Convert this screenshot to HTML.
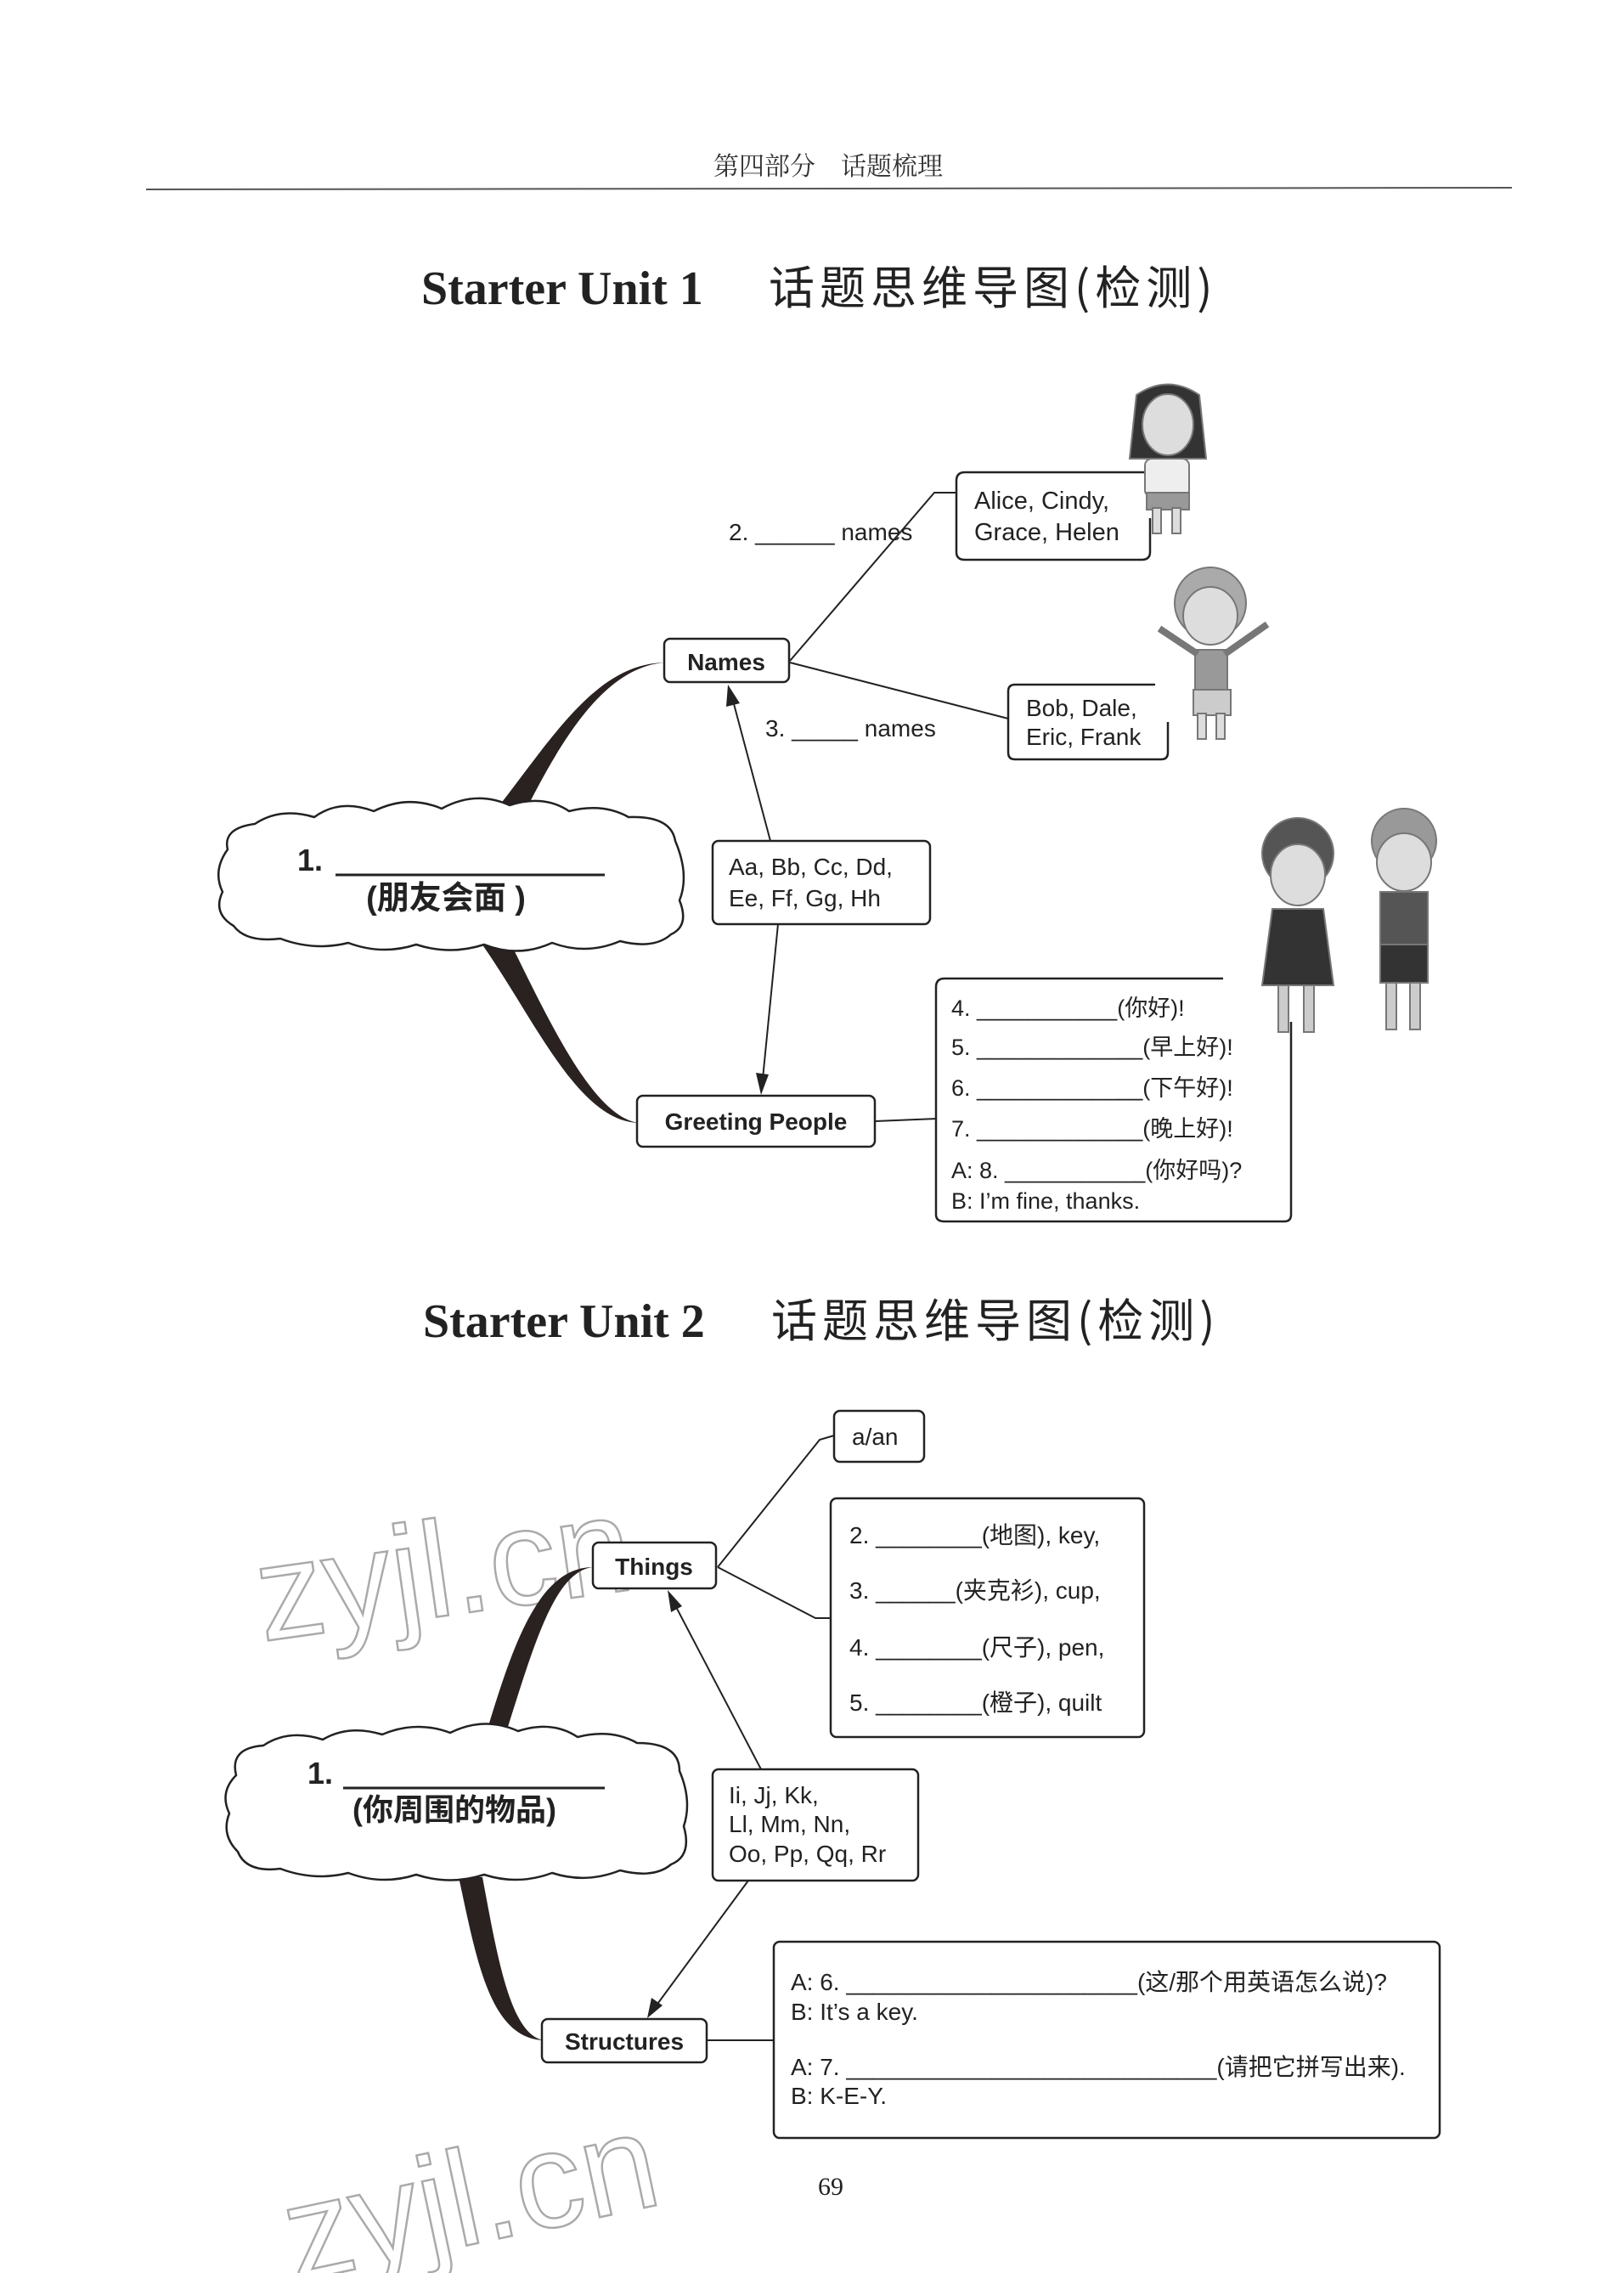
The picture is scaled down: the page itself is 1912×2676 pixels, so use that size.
<!DOCTYPE html>
<html><head><meta charset="utf-8">
<style>
html,body{margin:0;padding:0;background:#fff;}
svg{display:block;}
text{font-family:"Liberation Sans","Noto Sans CJK SC",sans-serif;fill:#222;}
text.wm{fill:none;stroke:#aaa;stroke-width:2.5;}
</style></head>
<body>
<svg width="1912" height="2676" viewBox="0 0 1912 2676" xmlns="http://www.w3.org/2000/svg">
<!-- header -->
<text x="975" y="206" font-size="30" text-anchor="middle" style="font-family:'Noto Serif CJK SC',serif;fill:#333">第四部分　话题梳理</text>
<line x1="172" y1="223" x2="1780" y2="221" stroke="#555" stroke-width="2"/>

<!-- Title 1 -->
<text x="496" y="358" font-size="56" font-weight="bold" style="font-family:'Liberation Serif',serif">Starter Unit 1</text>
<text x="905" y="358" font-size="54" letter-spacing="6" style="font-family:'Noto Sans CJK SC',sans-serif">话题思维导图(检测)</text>

<!-- watermarks -->
<text class="wm" x="300" y="1905" transform="rotate(-8 500 1850)" font-size="160">zyjl.cn</text>
<text class="wm" x="330" y="2640" transform="rotate(-12 560 2580)" font-size="160">zyjl.cn</text>

<!-- Unit 1 branches -->
<path d="M575 965 C650 870 700 782 782 780 C715 786 665 860 612 968 Z" fill="#2a2220"/>
<path d="M565 1108 C630 1200 680 1320 752 1322 C700 1315 650 1210 600 1108 Z" fill="#2a2220"/>

<!-- cloud 1 -->
<path d="M268 1000 Q262 975 300 970 Q330 950 370 962 Q400 940 440 955 Q480 935 520 952 Q560 930 600 948 Q640 935 670 955 Q710 945 740 962 Q790 960 795 990 Q812 1030 800 1060 Q812 1090 790 1100 Q770 1118 730 1108 Q690 1125 650 1110 Q610 1128 570 1112 Q530 1125 490 1112 Q450 1125 410 1110 Q370 1120 330 1105 Q290 1110 275 1090 Q250 1075 262 1050 Q250 1025 268 1000 Z" fill="#fff" stroke="#222" stroke-width="2.5"/>
<text x="350" y="1025" font-size="36" font-weight="bold">1.</text>
<line x1="395" y1="1030" x2="712" y2="1030" stroke="#222" stroke-width="3"/>
<text x="525" y="1070" font-size="38" font-weight="bold" text-anchor="middle">(朋友会面 )</text>

<!-- Names -->
<rect x="782" y="752" width="147" height="51" rx="7" fill="#fff" stroke="#222" stroke-width="2.5"/>
<text x="855" y="789" font-size="28" font-weight="bold" text-anchor="middle">Names</text>
<polyline points="930,778 1100,580 1126,580" fill="none" stroke="#222" stroke-width="2"/>
<line x1="930" y1="780" x2="1187" y2="846" stroke="#222" stroke-width="2"/>
<text x="858" y="636" font-size="28">2. ______ names</text>
<text x="901" y="867" font-size="28">3. _____ names</text>

<!-- Alice -->
<path d="M1354 556 L1136 556 Q1126 556 1126 566 L1126 650 Q1126 659 1136 659 L1344 659 Q1354 659 1354 650 L1354 610" fill="#fff" stroke="#222" stroke-width="2.5"/>
<text x="1147" y="599" font-size="29">Alice, Cindy,</text>
<text x="1147" y="636" font-size="29">Grace, Helen</text>
<!-- Bob -->
<path d="M1360 806 L1195 806 Q1187 806 1187 814 L1187 886 Q1187 894 1195 894 L1367 894 Q1375 894 1375 886 L1375 850" fill="#fff" stroke="#222" stroke-width="2.5"/>
<text x="1208" y="843" font-size="28">Bob, Dale,</text>
<text x="1208" y="877" font-size="28">Eric, Frank</text>

<!-- Aa box -->
<rect x="839" y="990" width="256" height="98" rx="7" fill="#fff" stroke="#222" stroke-width="2.5"/>
<text x="858" y="1030" font-size="28">Aa, Bb, Cc, Dd,</text>
<text x="858" y="1067" font-size="28">Ee, Ff, Gg, Hh</text>
<line x1="907" y1="990" x2="863" y2="825" stroke="#222" stroke-width="2"/>
<polygon points="857,806 855,832 871,828" fill="#222"/>
<line x1="916" y1="1088" x2="898" y2="1270" stroke="#222" stroke-width="2"/>
<polygon points="896,1289 890,1263 905,1265" fill="#222"/>

<!-- Greeting -->
<rect x="750" y="1290" width="280" height="60" rx="7" fill="#fff" stroke="#222" stroke-width="2.5"/>
<text x="890" y="1330" font-size="28" font-weight="bold" text-anchor="middle">Greeting People</text>
<line x1="1030" y1="1320" x2="1103" y2="1317" stroke="#222" stroke-width="2"/>
<path d="M1440 1152 L1112 1152 Q1102 1152 1102 1162 L1102 1430 Q1102 1438 1112 1438 L1512 1438 Q1520 1438 1520 1430 L1520 1203" fill="#fff" stroke="#222" stroke-width="2.5"/>
<g font-size="27">
<text x="1120" y="1196">4. ___________(你好)!</text>
<text x="1120" y="1242">5. _____________(早上好)!</text>
<text x="1120" y="1290">6. _____________(下午好)!</text>
<text x="1120" y="1338">7. _____________(晚上好)!</text>
<text x="1120" y="1387">A: 8. ___________(你好吗)?</text>
<text x="1120" y="1423">B: I’m fine, thanks.</text>
</g>

<!-- figures (simplified) -->
<g fill="#bbb" stroke="#777" stroke-width="2">
<path d="M1338 465 Q1375 440 1412 465 L1420 540 L1330 540 Z" fill="#333"/>
<ellipse cx="1375" cy="500" rx="30" ry="36" fill="#ddd"/>
<rect x="1348" y="540" width="52" height="45" rx="8" fill="#eee"/>
<rect x="1350" y="580" width="50" height="20" fill="#999"/>
<rect x="1357" y="598" width="10" height="30" fill="#ddd"/><rect x="1380" y="598" width="10" height="30" fill="#ddd"/>
<circle cx="1425" cy="710" r="42" fill="#aaa"/>
<ellipse cx="1425" cy="725" rx="32" ry="34" fill="#ddd"/>
<rect x="1407" y="765" width="38" height="50" fill="#999"/>
<line x1="1410" y1="770" x2="1365" y2="740" stroke-width="8"/><line x1="1442" y1="770" x2="1492" y2="735" stroke-width="8"/>
<rect x="1405" y="812" width="44" height="30" fill="#ccc"/>
<rect x="1410" y="840" width="10" height="30" fill="#ddd"/><rect x="1432" y="840" width="10" height="30" fill="#ddd"/>
<circle cx="1528" cy="1005" r="42" fill="#555"/>
<ellipse cx="1528" cy="1030" rx="32" ry="36" fill="#ddd"/>
<path d="M1498 1070 L1558 1070 L1570 1160 L1486 1160 Z" fill="#333"/>
<rect x="1505" y="1160" width="12" height="55" fill="#ccc"/><rect x="1535" y="1160" width="12" height="55" fill="#ccc"/>
<circle cx="1653" cy="990" r="38" fill="#999"/>
<ellipse cx="1653" cy="1015" rx="32" ry="34" fill="#ddd"/>
<rect x="1625" y="1050" width="56" height="65" fill="#555"/>
<rect x="1625" y="1112" width="56" height="45" fill="#333"/>
<rect x="1632" y="1157" width="12" height="55" fill="#ccc"/><rect x="1660" y="1157" width="12" height="55" fill="#ccc"/>
</g>

<!-- Title 2 -->
<text x="498" y="1574" font-size="56" font-weight="bold" style="font-family:'Liberation Serif',serif">Starter Unit 2</text>
<text x="908" y="1574" font-size="54" letter-spacing="6" style="font-family:'Noto Sans CJK SC',sans-serif">话题思维导图(检测)</text>

<!-- Unit 2 branches -->
<path d="M568 2055 C600 1950 630 1845 698 1845 C650 1850 625 1950 590 2058 Z" fill="#2a2220"/>
<path d="M540 2210 C560 2300 575 2400 640 2402 C600 2395 585 2300 568 2210 Z" fill="#2a2220"/>

<!-- cloud 2 -->
<path d="M278 2090 Q270 2058 310 2055 Q340 2035 380 2048 Q410 2030 450 2042 Q490 2025 530 2040 Q570 2020 610 2038 Q650 2025 680 2045 Q720 2035 750 2052 Q800 2052 800 2085 Q815 2120 805 2150 Q815 2185 790 2195 Q770 2212 730 2202 Q690 2218 650 2205 Q610 2220 570 2207 Q530 2220 490 2207 Q450 2220 410 2205 Q370 2215 330 2200 Q290 2205 280 2180 Q260 2160 270 2135 Q258 2110 278 2090 Z" fill="#fff" stroke="#222" stroke-width="2.5"/>
<text x="362" y="2100" font-size="36" font-weight="bold">1.</text>
<line x1="404" y1="2105" x2="712" y2="2105" stroke="#222" stroke-width="3"/>
<text x="535" y="2143" font-size="36" font-weight="bold" text-anchor="middle">(你周围的物品)</text>

<!-- Things -->
<rect x="698" y="1816" width="145" height="54" rx="7" fill="#fff" stroke="#222" stroke-width="2.5"/>
<text x="770" y="1854" font-size="28" font-weight="bold" text-anchor="middle">Things</text>
<polyline points="845,1845 965,1695 982,1690" fill="none" stroke="#222" stroke-width="2"/>
<polyline points="845,1845 960,1905 978,1905" fill="none" stroke="#222" stroke-width="2"/>
<rect x="982" y="1661" width="106" height="60" rx="7" fill="#fff" stroke="#222" stroke-width="2.5"/>
<text x="1003" y="1701" font-size="28">a/an</text>
<rect x="978" y="1764" width="369" height="281" rx="7" fill="#fff" stroke="#222" stroke-width="2.5"/>
<g font-size="28">
<text x="1000" y="1817">2. ________(地图), key,</text>
<text x="1000" y="1882">3. ______(夹克衫), cup,</text>
<text x="1000" y="1949">4. ________(尺子), pen,</text>
<text x="1000" y="2014">5. ________(橙子), quilt</text>
</g>

<!-- Ii box -->
<rect x="839" y="2083" width="242" height="131" rx="7" fill="#fff" stroke="#222" stroke-width="2.5"/>
<text x="858" y="2123" font-size="28">Ii, Jj, Kk,</text>
<text x="858" y="2157" font-size="28">Ll, Mm, Nn,</text>
<text x="858" y="2192" font-size="28">Oo, Pp, Qq, Rr</text>
<line x1="896" y1="2083" x2="795" y2="1890" stroke="#222" stroke-width="2"/>
<polygon points="786,1872 790,1898 803,1891" fill="#222"/>
<line x1="881" y1="2214" x2="772" y2="2362" stroke="#222" stroke-width="2"/>
<polygon points="762,2376 767,2352 780,2361" fill="#222"/>

<!-- Structures -->
<rect x="638" y="2377" width="194" height="51" rx="7" fill="#fff" stroke="#222" stroke-width="2.5"/>
<text x="735" y="2413" font-size="28" font-weight="bold" text-anchor="middle">Structures</text>
<line x1="832" y1="2402" x2="911" y2="2402" stroke="#222" stroke-width="2"/>
<rect x="911" y="2286" width="784" height="231" rx="7" fill="#fff" stroke="#222" stroke-width="2.5"/>
<g font-size="28">
<text x="931" y="2343">A: 6. ______________________(这/那个用英语怎么说)?</text>
<text x="931" y="2378">B: It’s a key.</text>
<text x="931" y="2443">A: 7. ____________________________(请把它拼写出来).</text>
<text x="931" y="2477">B: K-E-Y.</text>
</g>

<text x="978" y="2584" font-size="30" text-anchor="middle" style="font-family:'Liberation Serif',serif">69</text>
</svg>
</body></html>
